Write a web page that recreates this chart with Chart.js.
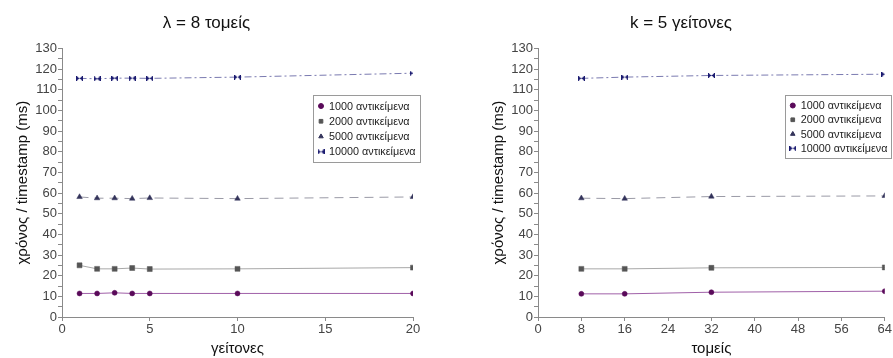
<!DOCTYPE html>
<html>
<head>
<meta charset="utf-8">
<script src="https://cdn.jsdelivr.net/npm/chart.js@4/dist/chart.umd.min.js"></script>
<style>
  html, body { margin: 0; padding: 0; background: #fff; }
  #wrap { width: 893px; height: 358px; display: flex; }
  .cell { position: relative; width: 446px; height: 358px; }
  .cell.right { width: 447px; }
</style>
</head>
<body>
<div id="wrap">
  <div class="cell"><canvas id="left"></canvas></div>
  <div class="cell right"><canvas id="right"></canvas></div>
</div>
<script>
// Experiment results: query time per timestamp (ms)
const seriesLabels = ['1000 αντικείμενα', '2000 αντικείμενα', '5000 αντικείμενα', '10000 αντικείμενα'];

// Left panel: λ = 8 sectors, varying number of neighbours
const neighbours = [1, 2, 3, 4, 5, 10, 20];
const byNeighbours1000 = [11.4, 11.4, 11.7, 11.4, 11.4, 11.4, 11.4];
const byNeighbours2000 = [25.0, 23.3, 23.3, 23.7, 23.2, 23.3, 23.9];
const byNeighbours5000 = [58.1, 57.5, 57.5, 57.3, 57.6, 57.3, 58.1];
const byNeighbours10000 = [115.5, 115.3, 115.6, 115.6, 115.5, 116.1, 118.0];

// Right panel: k = 5 neighbours, varying number of sectors
const sectors = [8, 16, 32, 64];
const bySectors1000 = [11.2, 11.2, 12.0, 12.5];
const bySectors2000 = [23.3, 23.3, 23.8, 24.0];
const bySectors5000 = [57.5, 57.3, 58.3, 58.6];
const bySectors10000 = [115.5, 116.1, 116.9, 117.5];

const yTicks = { min: 0, max: 130, step: 5, labelEvery: 10 };
const leftXTicks = { min: 0, max: 20, step: 5 };
const rightXTicks = { min: 0, max: 64, step: 8 };

const FONT = '"Liberation Sans", Arial, sans-serif';

// bow-tie marker used for the largest data set
function bowTie(color) {
  const c = document.createElement('canvas');
  c.width = 7; c.height = 5;
  const g = c.getContext('2d');
  g.fillStyle = color;
  g.beginPath();
  g.moveTo(0, 0); g.lineTo(3.5, 2.5); g.lineTo(0, 5); g.closePath();
  g.moveTo(7, 0); g.lineTo(3.5, 2.5); g.lineTo(7, 5); g.closePath();
  g.fill();
  g.fillRect(0, 0, 1.2, 5);
  g.fillRect(5.8, 0, 1.2, 5);
  return c;
}

const styles = [
  { point: 'circle', radius: 2.5, color: '#5a0a5a', line: '#a060a8', dash: [] },
  { point: 'rect', radius: 3.5, color: '#555555', line: '#a8a8a8', dash: [] },
  { point: 'triangle', radius: 3.2, color: '#33335a', line: '#9a9aa6', dash: [9, 6] },
  { point: bowTie('#1a1a70'), radius: 4, color: '#1a1a70', line: '#7a7ab0', dash: [7, 3, 2, 3] }
];

function makeDatasets(xs, ys) {
  return ys.map((vals, i) => ({
    label: seriesLabels[i],
    data: xs.map((x, j) => ({ x: x, y: vals[j] })),
    showLine: true,
    borderColor: styles[i].line,
    borderWidth: 1,
    borderDash: styles[i].dash,
    pointStyle: styles[i].point,
    pointRadius: styles[i].radius,
    pointBackgroundColor: styles[i].color,
    pointBorderColor: styles[i].color,
    pointBorderWidth: 0.5,
    tension: 0
  }));
}

// boxed legend drawn inside the plot, near its upper right corner
const boxLegend = {
  id: 'boxLegend',
  afterDraw(chart, args, opts) {
    const ctx = chart.ctx;
    const a = chart.chartArea;
    const w = opts.width, h = opts.height;
    const x0 = a.right + opts.dx - w, y0 = a.top + opts.dy;
    ctx.save();
    ctx.fillStyle = '#ffffff';
    ctx.fillRect(x0, y0, w, h);
    ctx.strokeStyle = '#9a9a9a';
    ctx.lineWidth = 1;
    ctx.strokeRect(Math.round(x0) + 0.5, Math.round(y0) + 0.5, w, h);
    ctx.font = '10.8px ' + FONT;
    ctx.textBaseline = 'middle';
    const rowH = (h - 6) / 4;
    chart.data.datasets.forEach((ds, i) => {
      const cy = y0 + 3 + rowH * (i + 0.5);
      const mx = x0 + 8;
      const r = Math.min(ds.pointRadius, 2.6);
      ctx.fillStyle = ds.pointBackgroundColor;
      ctx.strokeStyle = ds.pointBorderColor;
      if (Chart.helpers && Chart.helpers.drawPoint) {
        Chart.helpers.drawPoint(ctx, { pointStyle: ds.pointStyle, radius: r, rotation: 0, borderWidth: 0.5 }, mx, cy);
      }
      ctx.fillStyle = '#222';
      ctx.fillText(ds.label, x0 + 16, cy + 0.5);
    });
    ctx.restore();
  }
};

function makeChart(id, title, xTitle, xs, ys, xt, padLeft, padRight, legend) {
  return new Chart(document.getElementById(id), {
    type: 'scatter',
    data: { datasets: makeDatasets(xs, ys) },
    plugins: [boxLegend],
    options: {
      responsive: true,
      maintainAspectRatio: false,
      animation: false,
      layout: { padding: { left: padLeft, right: padRight, top: 0, bottom: 0 } },
      plugins: {
        legend: { display: false },
        tooltip: { enabled: false },
        title: {
          display: true,
          text: title,
          color: '#111',
          font: { family: FONT, size: 17, weight: 'normal' },
          padding: { top: 13, bottom: 15 }
        },
        boxLegend: legend
      },
      scales: {
        x: {
          type: 'linear',
          min: xt.min, max: xt.max,
          afterFit: s => { s.height = 41; },
          ticks: { stepSize: xt.step, color: '#444', font: { family: FONT, size: 13 }, padding: 1, maxRotation: 0, autoSkip: false },
          grid: { drawOnChartArea: false, drawTicks: true, tickLength: 4, color: '#8a8a8a' },
          border: { color: '#8a8a8a', width: 1 },
          title: { display: true, text: xTitle, color: '#111', font: { family: FONT, size: 15 }, padding: { top: 0, bottom: 0 } }
        },
        y: {
          type: 'linear',
          min: yTicks.min, max: yTicks.max,
          afterFit: s => { s.width = 62; },
          ticks: {
            stepSize: yTicks.step, autoSkip: false, color: '#444', padding: 1,
            font: { family: FONT, size: 13 },
            callback: v => (v % yTicks.labelEvery === 0 ? v : '')
          },
          grid: { drawOnChartArea: false, drawTicks: true, tickLength: 4, color: '#8a8a8a' },
          border: { color: '#8a8a8a', width: 1 },
          title: { display: true, text: 'χρόνος / timestamp (ms)', color: '#111', font: { family: FONT, size: 15 }, padding: { top: 14, bottom: 0 } }
        }
      }
    }
  });
}

makeChart('left', 'λ = 8 τομείς', 'γείτονες', neighbours,
  [byNeighbours1000, byNeighbours2000, byNeighbours5000, byNeighbours10000],
  leftXTicks, 0, 33, { width: 107, height: 67, dx: 7, dy: 47 });

makeChart('right', 'k = 5 γείτονες', 'τομείς', sectors,
  [bySectors1000, bySectors2000, bySectors5000, bySectors10000],
  rightXTicks, 30, 7, { width: 106, height: 63, dx: 6, dy: 47 });
</script>
</body>
</html>
